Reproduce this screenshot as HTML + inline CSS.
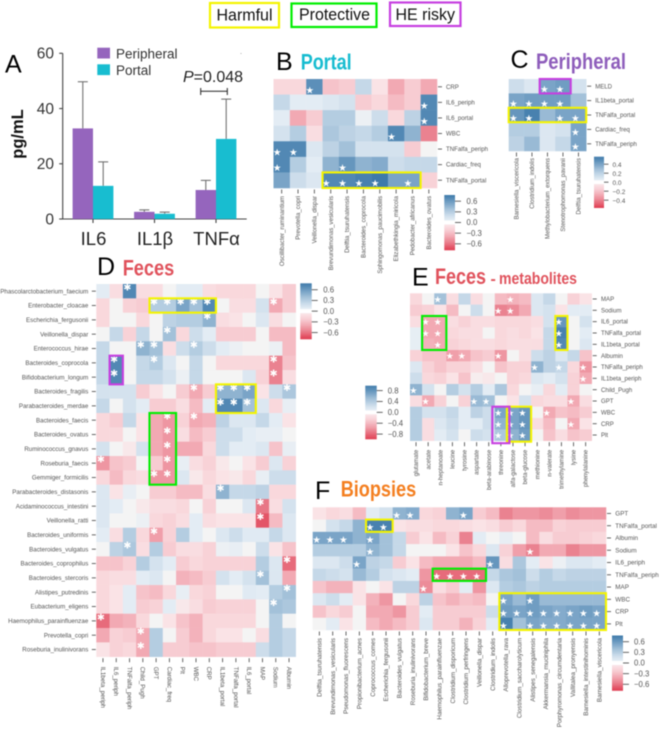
<!DOCTYPE html>
<html lang="en">
<head>
<meta charset="utf-8">
<title>Cytokines and microbiome correlation heatmaps</title>
<style>
html,body{margin:0;padding:0;background:#fff;}
#stage{width:660px;height:730px;overflow:hidden;position:relative;background:#fff;}
svg{display:block;filter:blur(.4px);font-family:"Liberation Sans",sans-serif;}
</style>
</head>
<body>
<div id="stage">
<svg id="fig" width="660" height="730" viewBox="0 0 660 730" xmlns="http://www.w3.org/2000/svg">
  <g>
    <rect x="210" y="3" width="69" height="24.5" fill="#fff" stroke="#f4f400" stroke-width="2.2"/>
    <text x="216.5" y="20.7" font-size="16.5" fill="#111" textLength="56" lengthAdjust="spacingAndGlyphs">Harmful</text>
    <rect x="291.5" y="3.5" width="85" height="23.5" fill="#fff" stroke="#00ee00" stroke-width="2.2"/>
    <text x="299" y="20" font-size="16.5" fill="#111" textLength="71" lengthAdjust="spacingAndGlyphs">Protective</text>
    <rect x="390" y="2.5" width="70.5" height="23.5" fill="#fff" stroke="#c63fe0" stroke-width="2.2"/>
    <text x="395.5" y="20" font-size="16.5" fill="#111" textLength="59.5" lengthAdjust="spacingAndGlyphs">HE risky</text>
  </g>

  <g>
    <text x="5" y="72.7" font-size="25" fill="#000">A</text>
    <text x="276" y="70" font-size="25" fill="#000">B</text>
    <text x="300.7" y="69.5" font-size="22" font-weight="bold" fill="#17bcd0" textLength="51" lengthAdjust="spacingAndGlyphs">Portal</text>
    <text x="510.5" y="68" font-size="25" fill="#000">C</text>
    <text x="536" y="69" font-size="22" font-weight="bold" fill="#8e5dbb" textLength="90" lengthAdjust="spacingAndGlyphs">Peripheral</text>
    <text x="97" y="275" font-size="25" fill="#000">D</text>
    <text x="122.7" y="275.7" font-size="22" font-weight="bold" fill="#e0525c" textLength="51.5" lengthAdjust="spacingAndGlyphs">Feces</text>
    <text x="412" y="285.7" font-size="25" fill="#000">E</text>
    <text x="435" y="284" font-size="22" font-weight="bold" fill="#e0525c" textLength="51" lengthAdjust="spacingAndGlyphs">Feces</text>
    <text x="490.5" y="284" font-size="16" font-weight="bold" fill="#e0525c">-</text>
    <text x="499" y="284" font-size="17" font-weight="bold" fill="#e0525c" textLength="78" lengthAdjust="spacingAndGlyphs">metabolites</text>
    <text x="315" y="499" font-size="25" fill="#000">F</text>
    <text x="340.7" y="496.7" font-size="22" font-weight="bold" fill="#f47f20" textLength="75.5" lengthAdjust="spacingAndGlyphs">Biopsies</text>
  </g>

  <g id="bars">
    <text transform="translate(23,134) rotate(-90)" text-anchor="middle" font-size="16.5" font-weight="bold" fill="#111">pg/mL</text>
    <rect x="97.3" y="47.7" width="12.7" height="10.8" fill="#9565bd"/>
    <text x="116" y="58.5" font-size="13.5" fill="#333">Peripheral</text>
    <rect x="97.3" y="64.3" width="12.7" height="10.8" fill="#18bdd0"/>
    <text x="116" y="75" font-size="13.5" fill="#333">Portal</text>
    <text x="183" y="82" font-size="16" fill="#222"><tspan font-style="italic">P</tspan>=0.048</text>
    <path d="M200.7 88V95M200.7 91.3H227.3M227.3 88V95" fill="none" stroke="#222" stroke-width="1"/>
    <circle cx="241" cy="53.5" r=".5" fill="#999"/>
  </g>
  <g id="heatmaps"></g>
</svg>
</div>
<script>
/* ---------- Panel A data ---------- */
const barCategories = ['IL6', 'IL1β', 'TNFα'];
const peripheralMeans = [32.8, 2.6, 10.5];
const portalMeans = [12, 1.9, 29];
const peripheralUpper = [49.7, 3.3, 14];
const portalUpper = [20.7, 2.5, 43.4];
const barYTicks = [0, 20, 40, 60];

/* ---------- Heatmap data: cells are tenths of the colour-bar extreme ---------- */
const portalRows = ['CRP','IL6_periph','IL6_portal','WBC','TNFalfa_periph','Cardiac_freq','TNFalfa_portal'];
const portalCols = ['Oscillibacter_ruminantium','Prevotella_copri','Veillonella_dispar','Brevundimonas_vesicularis','Delftia_tsuruhatensis','Bacteroides_coprocola','Sphingomonas_paucimobilis','Elizabethkingia_miricola','Pedobacter_africanus','Bacteroides_ovatus'];
const portalCells = [
 [-2,-2,8.5,-3.5,-3,3,-1,-5,-3,-5],
 [3,1,1,1.5,2,-3,-2,-4,-3,9],
 [1,-5,-3,4,4,.5,2.5,-2,3.5,9],
 [2,4,-1.5,4.5,3.5,3,4,9,6,-7],
 [9,9,1.5,3.5,5,2,2,2,-3,0],
 [9,4,1,6,8,6,6.5,2.5,3,3],
 [7,2.5,1.5,9,9,9.5,10,7,7,-2.5]
];
const portalStars = [[2],[9],[9],[7],[0,1],[0,4],[3,4,5,6,8]];
const portalTicks = [0.6,0.3,0,-0.3,-0.6];

const periphRows = ['MELD','IL1beta_portal','TNFalfa_portal','Cardiac_freq','TNFalfa_periph'];
const periphCols = ['Barnesiella_viscericola','Clostridium_indolis','Methylobacterium_extorquens','Stenotrophomonas_pavanii','Delftia_tsuruhatensis'];
const periphCells = [
 [2.5,1.5,7,7.5,2],
 [7,7.5,7.5,7.5,5],
 [8,9.5,5.5,7,7],
 [4,4,1.5,2,7],
 [3.5,5.5,1.5,3,7]
];
const periphStars = [[2,3],[0,1,2,3],[0,1,3,4],[4],[4]];
const periphTicks = [0.4,0.2,0,-0.2,-0.4];

const fecesRows = ['Phascolarctobacterium_faecium','Enterobacter_cloacae','Escherichia_fergusonii','Veillonella_dispar','Enterococcus_hirae','Bacteroides_coprocola','Bifidobacterium_longum','Bacteroides_fragilis','Parabacteroides_merdae','Bacteroides_faecis','Bacteroides_ovatus','Ruminococcus_gnavus','Roseburia_faecis','Gemmiger_formicilis','Parabacteroides_distasonis','Acidaminococcus_intestini','Veillonella_ratti','Bacteroides_uniformis','Bacteroides_vulgatus','Bacteroides_coprophilus','Bacteroides_stercoris','Alistipes_putredinis','Eubacterium_eligens','Haemophilus_parainfluenzae','Prevotella_copri','Roseburia_inulinivorans'];
const fecesCols = ['IL1beta_periph','IL6_periph','TNFalfa_periph','Child_Pugh','GPT','Cardiac_freq','Plt','WBC','CRP','IL1beta_portal','TNFalfa_portal','IL6_portal','MAP','Sodium','Albumin'];
const fecesCells = [
 [1,-1.5,9,-1.5,-1.5,0,1,1,-1.5,-2,-2,-2,0,-1,-3],
 [-2,0,-2.5,-3,4,4,7,5,9,0,-1.5,-1.5,2,-5,-3],
 [-2,0,0,-2,0,3.5,4,4,6,-1.5,-1,0,1.5,-1.5,0],
 [0,3,-2.5,3,0,5,-2,2.5,1,-3,-3,-3,0,-4,-4],
 [3,0,0,6,5,-1.5,2.5,4,2.5,1,.5,0,0,.5,-4],
 [3,9,0,3,4,1.5,0,3,0,-2,-2,-2,-2,-7,-3.5],
 [3,9,0,3,3,2,.5,3,0,0,0,1.5,-2.5,-7,-1.5],
 [2,2,2,-3,-1,0,-3,-5,-3,6,6,7,-1,2.5,4.5],
 [3,0,2,1,-3,-3,-1.5,-4,1,9,9,5,1.5,-2,.7],
 [-2,-3,3,-1,-5,-6,-2.5,-5,-4.5,3.5,1.5,1.5,3,1,-1],
 [-2,-2,0,-1,-5,-6,-1.5,-4,-3,2.5,2.5,1,.7,.7,0],
 [2,0,-.7,2,-5,-6,-5,-5,-2,2.5,1,1,1.5,-3.5,.7],
 [-6,-3.5,-3,0,-3,-6,.7,-1.5,-2.5,-.7,0,-1,-3,1.5,-2.5],
 [-2,-4,-2,-1.5,-6,-6,1.5,-.7,-2,-1,-.7,-2,.7,2.5,2.5],
 [1.5,-1,.7,0,-3,-3,-4,-4,-1.5,6,3,3,3.5,-2,-2],
 [1.5,1,0,-.7,-1.5,-1.5,-2,0,-2.5,0,0,1.5,-7.5,-1.5,2],
 [1.5,0,0,.5,-2,-2.5,-1.5,1,-1.5,-1,-1,-1,-9,-4,1.5],
 [1,-1.5,4,-2,-5.5,-2.5,4,1,0,1.5,2.5,1.2,1.2,3,1.5],
 [0,3.5,4.5,-1.5,4,-3,-1.5,-1.5,-2.5,.5,.7,0,2.5,-1,-3.5],
 [-3.5,-3.5,-2.5,4,2,1,-3,-2,-2.5,-2.5,-2.5,-2.5,4,1.5,-8],
 [-2,-1.5,-1.5,1,1.5,0,-4.5,-4,-3,2,1,2,5,1.5,-5],
 [-2,-1,1,-3.5,-4,-2,.7,-2,-2.5,0,0,1.2,1,4,5],
 [-2,-1,1,-3,-2.5,1,-.7,-1.5,-3,-2.5,-2.5,-2.5,0,5,4.5],
 [-8,-5,-4.5,-2,0,-1,-3.5,-4.5,-2,-2,-2,-2,0,4,0],
 [-5,-2.5,-3,-5,4,0,-3,-4.5,-2,-1,-1,0,-1.5,4,3],
 [-1,-2.5,-2,-5,4,-3,-3,-3.5,-3.5,-3,-3,-3,2.5,4,3]
];
const fecesStars = [[2],[4,5,6,7,8,13],[8],[5],[3,4,7],[1,4,13],[1,13],[7,9,10,11,14],[9,10,11],[5,7],[5],[5],[0,5],[4,5],[9],[12],[12],[4],[2],[14],[12],[14],[13],[0],[3],[3]];
const fecesTicks = [0.6,0.3,0,-0.3,-0.6];

const metabRows = ['MAP','Sodium','IL6_portal','TNFalfa_portal','IL1beta_portal','Albumin','TNFalfa_periph','IL1beta_periph','Child_Pugh','GPT','WBC','CRP','Plt'];
const metabCols = ['glutamate','acetate','n-heptanoate','leucine','tyrosine','aspartate','beta-arabinose','threonine','alfa-galactose','beta-glucose','methionine','n-valerate','trimethylamine','lysine','phenylalanine'];
const metabCells = [
 [-2,0,5,-1.5,3,-1.5,0,-4,-4.5,-4,1.5,3,0,-2.5,-1],
 [-3,-2.5,-1,-4,0,2.5,0,-7,-6.5,-5,1.5,2,-1,1,1],
 [-1.5,-5,-5,-1.5,-2.5,-1.5,-1.5,-2,-2,-2,-1.5,2,8,0,2],
 [.8,-5,-5,-2,-1.5,-1.5,0,-2,-1.5,-2,-1,3,9.5,0,1],
 [.8,-4.5,-5,-2.5,-2,-1.5,-1.5,-2,-1.5,-1.5,-1.5,3,9,0,1.5],
 [-2.5,-3.5,-3.5,-5.5,-5,-3.5,-3,-6,0,-1.5,2.5,3.5,1.5,3,-3.5],
 [1.5,-2.5,-3.5,-2.5,-2.5,-1.5,0,-3.5,-2.5,-2.5,6,3.5,3,-2,-6],
 [2.5,-2,-2.5,-1,-3.5,-.4,-.7,0,-2.5,-2,1.5,1,2,-2.5,-5],
 [6,2,0,4,2,4,1,4.5,-2,0,.7,-2,1,-2.5,0],
 [-1.5,-5,-2.5,0,-2.5,5.5,5,0,-1,2,-2,-1.5,-1.5,-5,-1.5],
 [4,2,2,3,1,3.5,2.5,7,7,8,0,-5,-3.5,-4,-3],
 [4,-1.5,1.5,2.5,1,1,2.5,6,7,8,-1.5,-4,0,-5,-1],
 [4,-1.5,1,2,0,2.5,2,4.5,6,7.5,0,-3.5,-1.5,-3.5,-3]
];
const metabStars = [[2,8],[7,8],[1,2,12],[1,2,12],[2,12],[3,4,7],[10,12,14],[14],[0],[1,5,6,13],[7,8,9,11],[7,8,9,13],[7,8,9]];
const metabTicks = [0.8,0.4,0,-0.4,-0.8];

const biopsyRows = ['GPT','TNFalfa_portal','Albumin','Sodium','IL6_periph','TNFalfa_periph','MAP','WBC','CRP','Plt'];
const biopsyCols = ['Delftia_tsuruhatensis','Brevundimonas_vesicularis','Pseudomonas_fluorescens','Propionibacterium_acnes','Coprococcus_comes','Escherichia_fergusonii','Bacteroides_vulgatus','Roseburia_inulinivorans','Bifidobacterium_breve','Haemophilus_parainfluenzae','Clostridium_disporicum','Clostridium_perfringens','Veillonella_dispar','Clostridium_indolis','Alloprevotella_rava','Clostridium_saccharolyticum','Alistipes_senegalensis','Akkermansia_muciniphila','Porphyromonas_circumdentaria','Vallitalea_pronyensis','Barnesiella_intestinihominis','Barnesiella_viscericola'];
const biopsyCells = [
 [-1,-2,-1.5,-4,1,2,6,6.5,-2,-2.5,6,7,-3,-4,-7,-6,-6,-6.5,-5.5,-6.5,-6,-6],
 [0,2,3,6,9.5,9.5,-1,-1.5,-1.5,-2,-2,-1.5,-1,-1.5,-3,-2,-4,-4,-2.5,-3,-3,-3],
 [7,7,7,6,7,5,3,-3,-1,-4,-2.5,-7,1,0,.7,0,-4,-1.5,-3,-3,-2.5,-2],
 [4,4,4,4,6,5,3,0,0,0,-1,-3.5,-2,1.5,-2.5,-5.5,-7,-5,-5,-7,-6,-6],
 [1.5,1.5,2.5,7,3.5,3,-3,-1,-4,-5,-5,-5,-4,8,-1.5,4.5,1,-1,.5,1.5,1.5,1],
 [3,2.5,2,5.5,4,2,1.5,1,-6,-8,-8,-8,-8,3,4.5,5,2.5,4,3,3.5,3.5,3.5],
 [-3.5,-4.5,-4.5,-1,0,-1,3.5,3.5,-6.5,-1.5,-3,1,-6,1.5,4,4.5,3.5,4,4,4,4,4],
 [1.5,2.5,1,-1,-4.5,-6,0,-2,3.5,-3.5,-4.5,-3.5,-4,0,7,5.5,7.5,5.5,5.5,5.5,5.5,5.5],
 [-3.5,-2,-3,0,-5,-5,-6,-3,1,-3,-3,-3,-3,2.5,7.5,7,7.5,7,6.5,7,7.5,7],
 [0,1,-1,0,-4,-5,-4,-3,1.5,-3,-3,-4.5,-2.5,1,9.5,5,7,6.5,6.5,7,7,7]
];
const biopsyStars = [[6,7,11],[4,5],[0,1,2,4],[4,16],[3,13],[9,10,11,12],[8],[14,16],[14,15,16,17,18,19,20,21],[14,16,17,18,19,20,21]];
const biopsyTicks = [0.6,0.3,0,-0.3,-0.6];

/* ---------- helpers ---------- */
const NS = 'http://www.w3.org/2000/svg';
function mk(tag, attrs, parent, txt){
  const n = document.createElementNS(NS, tag);
  for (const k in attrs) n.setAttribute(k, attrs[k]);
  if (txt !== undefined) n.textContent = txt;
  parent.appendChild(n);
  return n;
}
const blueRamp = [[0,[244,244,244]],[.1,[227,236,244]],[.3,[197,216,232]],[.5,[163,193,217]],[.7,[122,164,199]],[1,[62,122,170]]];
const redRamp  = [[0,[244,244,244]],[.1,[250,227,230]],[.3,[247,204,210]],[.5,[242,169,179]],[.7,[234,130,144]],[1,[224,62,82]]];
function colorScale(level){
  const t = Math.min(1, Math.abs(level) / 10);
  const ramp = level >= 0 ? blueRamp : redRamp;
  for (let i = 1; i < ramp.length; i++) {
    if (t <= ramp[i][0]) {
      const f = (t - ramp[i-1][0]) / (ramp[i][0] - ramp[i-1][0]);
      const c = ramp[i-1][1].map((a, j) => Math.round(a + (ramp[i][1][j] - a) * f));
      return 'rgb(' + c.join(',') + ')';
    }
  }
  return 'rgb(' + ramp[ramp.length-1][1].join(',') + ')';
}

/* ---------- Panel A ---------- */
(function drawBars(){
  const g = document.getElementById('bars');
  const yAxis = v => 219 - v * 165.7 / 60;
  const groupCenter = i => 93 + i * 61.5;
  const barWidth = 20.4;
  const axisX = 62.7;
  const yLine = mk('path', {d:'M' + axisX + ' ' + yAxis(60) + 'V' + yAxis(0) + 'H246.7', fill:'none', stroke:'#444', 'stroke-width':1.1}, g);
  
  
  barYTicks.forEach(v => {
    const t = mk('line', {x1:axisX-3.5, x2:axisX, y1:yAxis(v), y2:yAxis(v), stroke:'#444', 'stroke-width':1.1}, g);
    
    
    const l = mk('text', {x:54, y:yAxis(v)+5.4, 'text-anchor':'end', 'font-size':15.5, fill:'#333'}, g, String(v));
    
    
  });
  barCategories.forEach((cat, i) => {
    const cx = groupCenter(i);
    [[peripheralMeans, peripheralUpper, '#9565bd', -1, 'bar-peripheral'],
     [portalMeans, portalUpper, '#18bdd0', 0, 'bar-portal']].forEach(s => {
      const x = cx + s[3] * barWidth;
      const err = mk('path', {d:'M' + (x+barWidth/2) + ' ' + yAxis(s[0][i]) + 'V' + yAxis(s[1][i]) + 'm-5 0h10', fill:'none', stroke:'#666', 'stroke-width':1}, g);
      
      
      const b = mk('rect', {x:x, y:yAxis(s[0][i]), width:barWidth, height:yAxis(0)-yAxis(s[0][i]), fill:s[2]}, g);
      
      
    });
    const tick = mk('line', {x1:cx, x2:cx, y1:219, y2:223, stroke:'#444', 'stroke-width':1.1}, g);
    
    
    const lab = mk('text', {x:cx+0.5, y:245, 'text-anchor':'middle', 'font-size':18.5, fill:'#222'}, g, cat);
    
    
  });
})();

/* ---------- Heatmap panels ---------- */
const YEL = '#f4f400', GRN = '#00ee00', PUR = '#c63fe0';
function drawHeatmap(p){
  const g = mk('g', {}, document.getElementById('heatmaps'));
  
  
  const nr = p.rows.length, nc = p.cols.length;
  const xAxis = c => p.x0 + c * (p.x1 - p.x0) / nc;
  const yAxis = r => p.y0 + r * (p.y1 - p.y0) / nr;
  const cw = (p.x1 - p.x0) / nc, ch = (p.y1 - p.y0) / nr;

  p.cells.forEach((row, r) => row.forEach((v, c) => {
    const cell = mk('rect', {x:xAxis(c), y:yAxis(r), width:cw+.25, height:ch+.25, fill:colorScale(v)}, g);
    
    
  }));
  p.stars.forEach((list, r) => list.forEach(c => {
    const s = mk('text', {x:xAxis(c)+cw*p.starX, y:yAxis(r)+ch*p.starY, dy:'.36em', 'text-anchor':'middle', 'font-size':p.starSize, fill:'#fff', style:'font-family:"DejaVu Sans",sans-serif'}, g, p.starGlyph);
    
    
  }));

  /* row labels */
  p.rows.forEach((lab, r) => {
    const y = yAxis(r) + ch/2;
    const left = p.rowSide === 'left';
    const t = mk('line', {x1:left?p.x0-4.5:p.x1+1, x2:left?p.x0-.5:p.x1+5, y1:y, y2:y, stroke:'#555', 'stroke-width':.9}, g);
    
    
    const l = mk('text', {x:left?p.x0-8:p.x1+p.rowGap, y:y+2.1, 'text-anchor':left?'end':'start', 'font-size':p.labelSize, fill:'#555'}, g, lab);
    
    
  });
  /* column labels */
  p.cols.forEach((lab, c) => {
    const x = xAxis(c) + cw/2;
    const t = mk('line', {x1:x, x2:x, y1:p.y1+1.5, y2:p.y1+5.5, stroke:'#555', 'stroke-width':.9}, g);
    
    
    const down = p.colDir === 'down';
    const yStart = p.y1 + p.colGap;
    const l = mk('text', {transform:'translate(' + (x + (down ? -2.1 : 2.1)) + ',' + yStart + ') rotate(' + (down ? 90 : -90) + ')', 'text-anchor':down?'start':'end', 'font-size':p.labelSize, fill:'#555'}, g, lab);
    
    
  });
  /* highlight boxes: [color, col0, col1, row0, row1, pad] */
  p.boxes.forEach(b => {
    const pad = b[5] || 0;
    const box = mk('rect', {x:xAxis(b[1])-pad, y:yAxis(b[3]), width:xAxis(b[2]+1)-xAxis(b[1])+2*pad, height:yAxis(b[4]+1)-yAxis(b[3])+(b[6]||0), fill:'none', stroke:b[0], 'stroke-width':2.1}, g);
    
    
  });
  /* colour bar */
  const cb = p.cbar;
  const mid = (cb.y0 + cb.y1) / 2, half = (cb.y1 - cb.y0) / 2;
  const cbY = v => mid - v / cb.vmax * half;
  for (let i = 0; i < 56; i++) {
    const lvl = 10 - (i + .5) * 20 / 56;
    const seg = mk('rect', {x:cb.x, y:cb.y0 + i*(cb.y1-cb.y0)/56, width:cb.w, height:(cb.y1-cb.y0)/56+.3, fill:Math.abs(lvl)<.8?'#ffffff':colorScale(lvl)}, g);
    
    
  }
  p.ticks.forEach(v => {
    const t = mk('line', {x1:cb.x+cb.w, x2:cb.x+cb.w+cb.tl, y1:cbY(v), y2:cbY(v), stroke:'#555', 'stroke-width':.9}, g);
    
    
    const txt = (v < 0 ? '\u2212' : '') + Math.abs(v).toFixed(1);
    const l = mk('text', {x:cb.x+cb.w+cb.tl+cb.gap, y:cbY(v)+2.7, 'font-size':cb.fs, fill:'#555'}, g, txt);
    
    
  });
}

drawHeatmap({name:'portal-heatmap', rows:portalRows, cols:portalCols, cells:portalCells, stars:portalStars, ticks:portalTicks,
  x0:273.5, x1:437, y0:79, y1:188, rowSide:'right', rowGap:9, colDir:'up', colGap:8, labelSize:6.1,
  starX:.22, starY:.7, starSize:9.5, starGlyph:'★',
  cbar:{x:444.3, w:10.7, y0:195, y1:250, vmax:.775, tl:6, gap:5.5, fs:7.8},
  boxes:[[YEL,3,8,6,6]]});
drawHeatmap({name:'peripheral-heatmap', rows:periphRows, cols:periphCols, cells:periphCells, stars:periphStars, ticks:periphTicks,
  x0:508.7, x1:586.2, y0:79, y1:151, rowSide:'right', rowGap:9, colDir:'up', colGap:7, labelSize:6.05,
  starX:.3, starY:.7, starSize:9.5, starGlyph:'★',
  cbar:{x:594, w:10, y0:156.7, y1:207.7, vmax:.567, tl:4.5, gap:4, fs:6.5},
  boxes:[[PUR,2,3,0,0],[YEL,0,4,2,2]]});
drawHeatmap({name:'feces-heatmap', rows:fecesRows, cols:fecesCols, cells:fecesCells, stars:fecesStars, ticks:fecesTicks,
  x0:96.3, x1:295.7, y0:284, y1:656.7, rowSide:'left', rowGap:9, colDir:'down', colGap:10, labelSize:6.2,
  starX:.35, starY:.23, starSize:9.5, starGlyph:'✱',
  cbar:{x:300.3, w:11.4, y0:283.3, y1:339, vmax:.78, tl:6, gap:5.5, fs:7.8},
  boxes:[[YEL,4,8,1,1],[PUR,1,1,5,6],[GRN,4,5,9,13],[YEL,9,11,7,8]]});
drawHeatmap({name:'metabolites-heatmap', rows:metabRows, cols:metabCols, cells:metabCells, stars:metabStars, ticks:metabTicks,
  x0:410, x1:591.7, y0:293.3, y1:440.7, rowSide:'right', rowGap:9.3, colDir:'up', colGap:9, labelSize:6.05,
  starX:.28, starY:.53, starSize:9, starGlyph:'★',
  cbar:{x:365.3, w:11.4, y0:385.7, y1:439, vmax:.98, tl:6, gap:5, fs:7.8},
  boxes:[[YEL,8,9,10,12,0,1],[GRN,1,2,2,4],[YEL,12,12,2,4],[PUR,7,7,10,12,2.5,2.5]]});
drawHeatmap({name:'biopsies-heatmap', rows:biopsyRows, cols:biopsyCols, cells:biopsyCells, stars:biopsyStars, ticks:biopsyTicks,
  x0:312.7, x1:606, y0:507.3, y1:630, rowSide:'right', rowGap:9.3, colDir:'up', colGap:8, labelSize:6.3,
  starX:.3, starY:.62, starSize:9.5, starGlyph:'★',
  cbar:{x:612, w:11, y0:635.5, y1:690.5, vmax:.775, tl:6, gap:5, fs:7.8},
  boxes:[[YEL,4,5,1,1],[GRN,9,12,5,5],[YEL,14,21,7,9]]});
</script>
</body>
</html>
